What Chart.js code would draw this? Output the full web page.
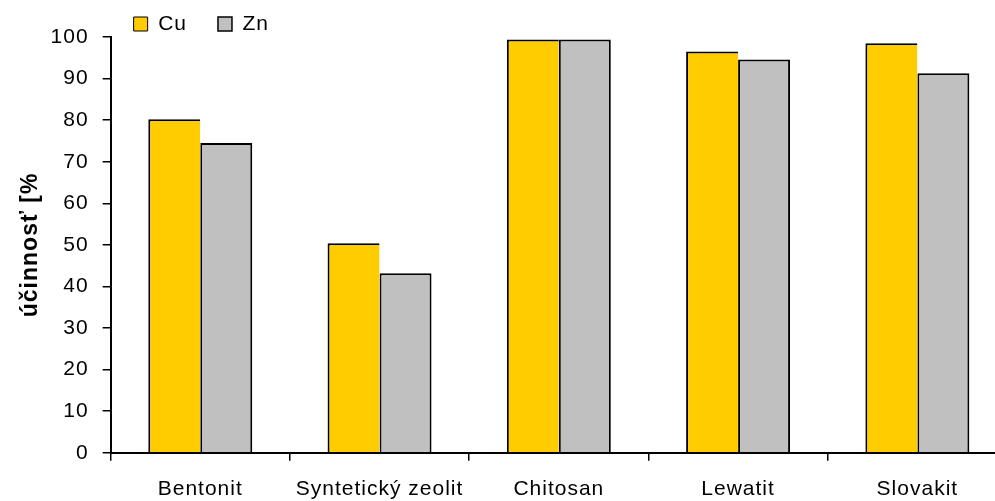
<!DOCTYPE html>
<html>
<head>
<meta charset="utf-8">
<script src="https://cdn.jsdelivr.net/npm/chart.js@4"></script>
<style>
  html, body { margin: 0; padding: 0; background: #fff; overflow: hidden; }
  #wrap { position: relative; width: 1007px; height: 518px; }
</style>
</head>
<body>
<div id="wrap"><canvas id="c"></canvas></div>
<script>
// Sorbent removal efficiency for copper and zinc
const categories = ['Bentonit', 'Syntetický zeolit', 'Chitosan', 'Lewatit', 'Slovakit'];
const cuValues = [80.2, 50.4, 99.4, 96.5, 98.5];
const znValues = [74.5, 43.2, 99.4, 94.6, 91.3];
const yTickValues = [0, 10, 20, 30, 40, 50, 60, 70, 80, 90, 100];
const yTitle = 'účinnosť [%';

Chart.defaults.font.family = "'Liberation Sans', Arial, sans-serif";
Chart.defaults.color = '#000';

// slightly wider glyph spacing for all canvas text
const textSpacing = {
  id: 'textSpacing',
  beforeUpdate(chart) { chart.ctx.letterSpacing = '1px'; },
  beforeDraw(chart) { chart.ctx.letterSpacing = '1px'; }
};

// legend sits above the plot, starting a little right of the value axis
const legendPlacement = {
  id: 'legendPlacement',
  afterLayout(chart) {
    const lg = chart.legend;
    const pad = lg.options.labels.padding;
    lg.left = chart.chartArea.left + 23 - pad;
    lg.right = lg.left + 400;
    lg.top = 13.5 - pad;
    lg.bottom = lg.top + 80;
    lg.width = lg.right - lg.left;
    lg.height = lg.bottom - lg.top;
  }
};

new Chart(document.getElementById('c'), {
  type: 'bar',
  data: {
    labels: categories,
    datasets: [
      {
        label: 'Cu', data: cuValues, backgroundColor: '#FFCC00', borderColor: '#000',
        borderWidth: { top: 2, left: 2, right: 0, bottom: 0 }
      },
      {
        label: 'Zn', data: znValues, backgroundColor: '#C0C0C0', borderColor: '#000',
        borderWidth: { top: 2, left: 2, right: 2, bottom: 0 }
      }
    ]
  },
  plugins: [textSpacing, legendPlacement],
  options: {
    responsive: true,
    maintainAspectRatio: false,
    animation: false,
    layout: { padding: { top: 36, left: 15, right: 0, bottom: 0 } },
    datasets: { bar: { categoryPercentage: 0.58, barPercentage: 1.0, inflateAmount: 0 } },
    plugins: {
      legend: {
        position: 'top',
        align: 'start',
        maxHeight: 1,
        labels: { boxWidth: 14, boxHeight: 14, padding: 31, font: { size: 21 }, color: '#000' }
      },
      tooltip: { enabled: false }
    },
    scales: {
      x: {
        grid: { display: true, drawOnChartArea: false, drawTicks: true, tickLength: 8, color: '#000', lineWidth: 1.5, offset: true },
        border: { display: true, color: '#000', width: 2 },
        ticks: { font: { size: 21 }, color: '#000', padding: 16, maxRotation: 0, autoSkip: false }
      },
      y: {
        min: 0,
        max: 100,
        afterBuildTicks(scale) { scale.ticks = yTickValues.map(v => ({ value: v })); },
        grid: { display: true, drawOnChartArea: false, drawTicks: true, tickLength: 8, color: '#000', lineWidth: 1.5 },
        border: { display: true, color: '#000', width: 2 },
        ticks: { font: { size: 21 }, color: '#000', padding: 14 },
        title: { display: true, text: yTitle, font: { size: 23, weight: 'bold' }, color: '#000', padding: { top: 2, bottom: -8 } }
      }
    }
  }
});
</script>
</body>
</html>
